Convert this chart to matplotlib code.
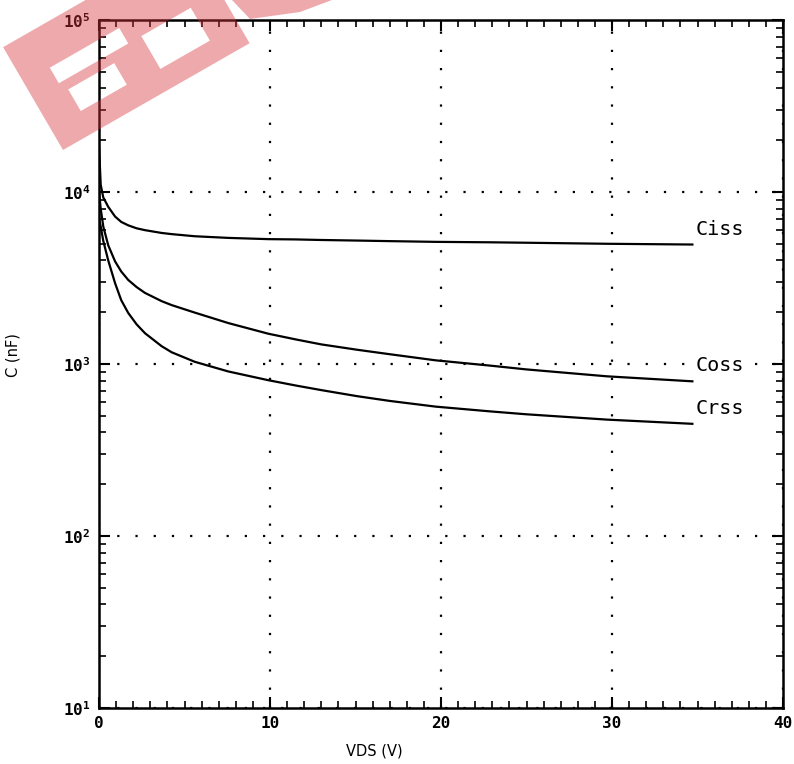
import numpy as np
import matplotlib
matplotlib.use('Agg')
import matplotlib.pyplot as plt
from matplotlib.ticker import LogLocator, MultipleLocator, FixedLocator, FixedFormatter, NullFormatter
from matplotlib.patches import PathPatch
from matplotlib.path import Path

# ---------------- data ----------------
vds = [0.0, 0.1, 0.25, 0.54, 0.94, 1.3, 1.71, 2.2, 2.69, 3.66, 4.25, 5.6, 7.56, 9.9,
       11.5, 13.0, 15.1, 17.0, 19.7, 22.9, 25.0, 29.7, 34.7]
ciss = [18500, 11000, 9300, 8200, 7200, 6700, 6400, 6150, 6000, 5780, 5690, 5530, 5410, 5320,
        5300, 5260, 5220, 5180, 5130, 5100, 5070, 5000, 4950]
coss = [10000, 8000, 6300, 4900, 3950, 3450, 3080, 2800, 2590, 2320, 2200, 1990, 1730, 1500,
        1390, 1300, 1210, 1140, 1050, 978, 930, 848, 793]
crss = [7000, 6300, 5200, 4000, 2950, 2350, 1980, 1700, 1510, 1270, 1170, 1030, 905, 805,
        750, 705, 650, 610, 565, 530, 510, 475, 449]
series_names = ['Ciss', 'Coss', 'Crss']
x_ticks = [0, 10, 20, 30, 40]
x_tick_labels = ['0', '10', '20', '30', '40']
y_ticks = [1e1, 1e2, 1e3, 1e4, 1e5]
y_tick_labels = [r'$\mathrm{10^{1}}$', r'$\mathrm{10^{2}}$', r'$\mathrm{10^{3}}$',
                 r'$\mathrm{10^{4}}$', r'$\mathrm{10^{5}}$']
x_label = 'VDS (V)'
y_label = 'C (nF)'

plt.rcParams['mathtext.fontset'] = 'custom'
plt.rcParams['mathtext.rm'] = 'DejaVu Sans Mono:bold'

W, H = 794, 764
fig = plt.figure(figsize=(W / 100, H / 100), dpi=100)
ax = fig.add_axes([99 / W, 1 - 708 / H, 684 / W, 688 / H])

for vals in (ciss, coss, crss):
    ax.plot(vds, vals, color='black', lw=1.6, solid_joinstyle='round', zorder=3)

ax.set_yscale('log')
ax.set_xlim(0, 40)
ax.set_ylim(1e1, 1e5)

ax.xaxis.set_major_locator(FixedLocator(x_ticks))
ax.xaxis.set_major_formatter(FixedFormatter(x_tick_labels))
ax.xaxis.set_minor_locator(MultipleLocator(1))
ax.yaxis.set_major_locator(FixedLocator(y_ticks))
ax.yaxis.set_major_formatter(FixedFormatter(y_tick_labels))
ax.yaxis.set_minor_locator(LogLocator(base=10, subs=np.arange(2, 10), numticks=20))
ax.yaxis.set_minor_formatter(NullFormatter())

ax.tick_params(which='both', direction='in', top=True, right=True, color='black')
ax.tick_params(which='major', length=8, width=1.5, pad=6)
ax.tick_params(which='minor', length=5, width=1.2)
for lab in ax.get_xticklabels():
    lab.set_fontfamily('DejaVu Sans Mono')
    lab.set_fontweight('bold')
    lab.set_fontsize(11.5)
for lab in ax.get_yticklabels():
    lab.set_fontsize(11.5)

for sp in ax.spines.values():
    sp.set_linewidth(1.8)
    sp.set_color('black')

ax.grid(which='major', linestyle=(0, (1, 7.2)), lw=1.6, color='black')

# curve labels
label_pos = [(34.9, 6080), (34.9, 975), (34.9, 551)]
for name, (lx, ly) in zip(series_names, label_pos):
    ax.text(lx, ly, name, fontsize=14.5, family='DejaVu Sans Mono',
            ha='left', va='center', color='black', zorder=4,
            bbox=dict(facecolor='white', edgecolor='none', pad=1))

ax.set_xlabel(x_label, fontsize=10.5)
ax.xaxis.set_label_coords((374 - 99) / 684, -0.052)
ax.set_ylabel(y_label, fontsize=10.5)
ax.yaxis.set_label_coords((20 - 99) / 684, (708 - 355) / 688)

# ---------------- watermark (pink logo in the top-left corner) ----------------
def px(p):
    return (p[0] / W, 1 - p[1] / H)

o = np.array([63.0, 150.0])
u = np.array([187.0, -107.0]) / np.hypot(187, 107)
v = np.array([-60.0, -103.0]) / np.hypot(60, 103)

def rect(a0, a1, b0, b1, reverse=False):
    pts = [o + a0 * u + b0 * v, o + a1 * u + b0 * v, o + a1 * u + b1 * v, o + a0 * u + b1 * v]
    if reverse:
        pts = pts[::-1]
    return pts

outer = rect(0, 215, 0, 119)
holes = [rect(30, 110, 60, 78, True), rect(35, 88, 25, 50, True), rect(125, 182, 22, 60, True)]
verts, codes = [], []
for poly in [outer] + holes:
    pp = [px(p) for p in poly]
    verts += pp + [pp[0]]
    codes += [Path.MOVETO] + [Path.LINETO] * 3 + [Path.CLOSEPOLY]
piece2 = [(232, 0), (332, 0), (300, 12), (250, 19)]
pp = [px(p) for p in piece2]
verts += pp + [pp[0]]
codes += [Path.MOVETO] + [Path.LINETO] * 3 + [Path.CLOSEPOLY]
wm = PathPatch(Path(verts, codes), transform=fig.transFigure, facecolor='#d8343c',
               edgecolor='none', alpha=0.42, zorder=10)
fig.patches.append(wm)

fig.savefig('out.png', dpi=100)
